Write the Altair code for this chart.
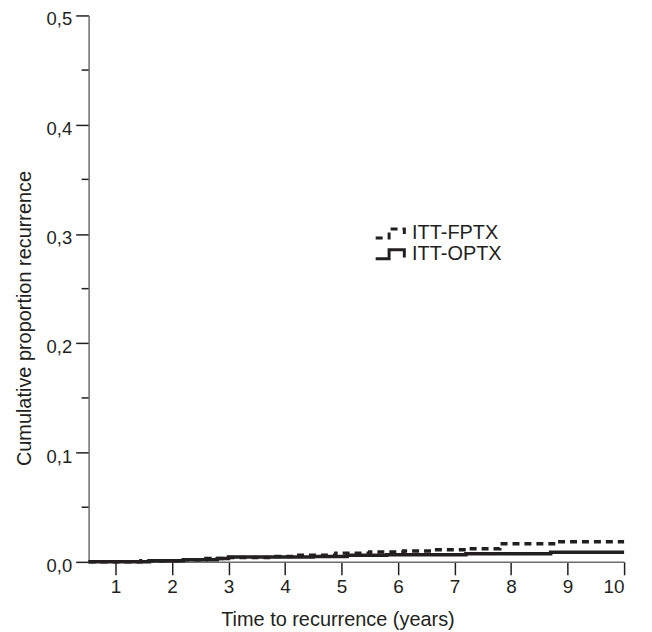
import altair as alt
import pandas as pd

series_names = ["ITT-FPTX", "ITT-OPTX"]

fptx_t = [0.5245, 1.45, 2.1, 2.6, 3.0, 3.8, 4.2, 4.9, 5.5, 6.1, 6.6, 7.2, 7.8, 8.8, 10.0]
fptx_v = [0.0, 0.001, 0.002, 0.003, 0.004, 0.005, 0.006, 0.008, 0.009, 0.010, 0.011, 0.012, 0.0165, 0.0185, 0.0185]

optx_t = [0.5245, 1.6, 2.2, 2.8, 3.0, 4.5, 5.1, 5.8, 7.2, 8.7, 10.0]
optx_v = [0.0, 0.001, 0.002, 0.003, 0.0045, 0.005, 0.006, 0.0065, 0.0075, 0.0088, 0.0088]

x_ticks = [1, 2, 3, 4, 5, 6, 7, 8, 9, 10]
y_ticks = [0.0, 0.1, 0.2, 0.3, 0.4, 0.5]
y_minor = [0.05, 0.15, 0.25, 0.35, 0.45]

rows = [{"t": t, "v": v, "series": series_names[0]} for t, v in zip(fptx_t, fptx_v)]
rows += [{"t": t, "v": v, "series": series_names[1]} for t, v in zip(optx_t, optx_v)]
df = pd.DataFrame(rows)

ink = "#231f20"
FONT = "Liberation Sans"

x_scale = alt.Scale(domain=[0.5245, 10], nice=False, zero=False)
y_scale = alt.Scale(domain=[0, 0.5], nice=False, zero=True)

y_axis = alt.Axis(values=y_ticks, title="Cumulative proportion recurrence", tickSize=13,
                  labelPadding=4, grid=False, titlePadding=12, titleY=304,
                  labelFontSize=18.5, labelOffset=3.5,
                  labelExpr="replace(format(datum.value, '.1f'), '.', ',')")

lines = alt.Chart(df).mark_line(interpolate="step-after", strokeWidth=3.5, color=ink).encode(
    x=alt.X("t:Q", scale=x_scale,
            axis=alt.Axis(values=x_ticks, title="Time to recurrence (years)", tickSize=13,
                          labelPadding=3, grid=False, titlePadding=13, titleX=250, format="d")),
    y=alt.Y("v:Q", scale=y_scale, axis=y_axis),
    strokeDash=alt.StrokeDash("series:N",
                              scale=alt.Scale(domain=series_names, range=[[7, 5], [1, 0]]),
                              legend=alt.Legend(title=None, orient="none", legendX=295, legendY=208.5,
                                                symbolType="M-1.9,0.5H-0.4V-0.5H1.3V0.35",
                                                symbolSize=324, symbolStrokeWidth=3,
                                                symbolStrokeColor=ink, symbolFillColor="transparent",
                                                labelFontSize=20, labelOffset=9, padding=0, rowPadding=0,
                                                labelColor=ink, labelFont=FONT)),
)

minor_df = pd.DataFrame({"v": y_minor})
minor = alt.Chart(minor_df).mark_rule(color=ink, strokeWidth=1.5).encode(
    y=alt.Y("v:Q", scale=y_scale, axis=y_axis),
    x=alt.value(-7),
    x2=alt.value(0),
)

chart = alt.layer(lines, minor).properties(
    width=538, height=549,
    autosize=alt.AutoSizeParams(type="none"),
    padding={"left": 81, "top": 6, "right": 20, "bottom": 70},
).configure_view(stroke=None).configure_axis(
    labelFont=FONT, titleFont=FONT, labelFontSize=19, titleFontSize=20,
    titleFontWeight="normal", labelColor=ink, titleColor=ink,
    domainColor="#6d6d6d", domainWidth=1.5, tickColor=ink, tickWidth=1.5,
)

chart.save("out.html", embed_options={"renderer": "svg", "actions": False})
